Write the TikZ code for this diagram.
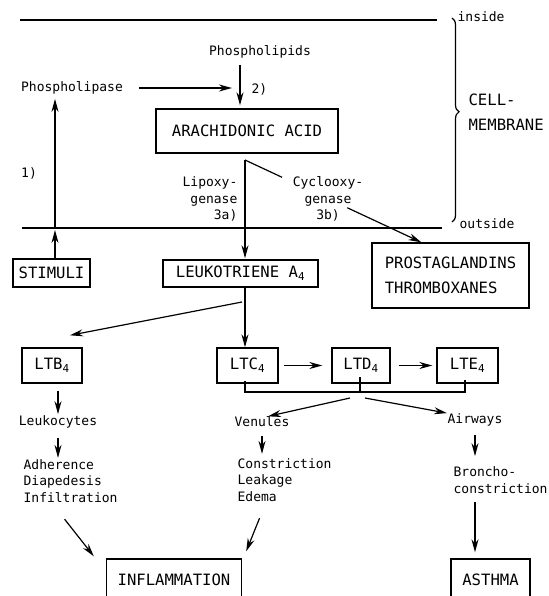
\documentclass[tikz,border=0pt]{standalone}
\usepackage{fontspec}
\newfontfamily\diagmono{DejaVu Sans Mono}
\newcommand{\lblfont}{\diagmono\fontsize{13}{16.5}\selectfont}
\newcommand{\boxtxtfont}{\diagmono\fontsize{15.6}{25}\selectfont}
\usetikzlibrary{arrows.meta,calc,decorations.pathreplacing}

\begin{document}
\begin{tikzpicture}[x=1pt, y=-1pt, line width=1.2pt, >={Stealth[length=13pt,width=7pt]},
                    box node/.style={draw,line width=1.4pt,inner sep=0pt,font=\boxtxtfont},
                    label node/.style={inner sep=0pt,font=\lblfont},
                    membrane/.style={line width=2.4pt}]
  \useasboundingbox (0,0) rectangle (548,596);

  % cell membrane
  \draw[membrane] (20,20) -- (437,20);
  \draw[membrane] (22,228) -- (442,228);
  \draw[line width=1.2pt,decorate,decoration={brace,amplitude=7pt,aspect=0.46}] (452,18) -- (452,222);
  \node[label node,anchor=west] (inside) at (457,17) {inside};
  \node[label node,anchor=west] (outside) at (459,224) {outside};
  \node[label node,anchor=west,align=left,font=\boxtxtfont] (cell) at (468,112) {CELL-\\MEMBRANE};

  % inside the cell
  \node[label node] (lipids) at (260,52) {Phospholipids};
  \node[label node] (lipase) at (72,88) {Phospholipase};
  \coordinate (meet) at (240,88);
  \node[label node,anchor=west] (two) at (251,89) {2)};
  \node[label node] (one) at (29,173) {1)};
  \node[box node,minimum width=182pt,minimum height=44pt] (aa) at (247,131) {ARACHIDONIC ACID};
  \coordinate (split) at (245,160);
  \node[label node,anchor=east,align=right] (lipoxy) at (238,199) {Lipoxy-\\genase\\3a)};
  \node[label node,align=center] (cyclo) at (328,199) {Cyclooxy-\\genase\\3b)};

  % outside
  \node[box node,minimum width=77pt,minimum height=28pt] (stim) at (51.5,273) {STIMULI};
  \node[box node,minimum width=155pt,minimum height=27pt] (lta) at (240.5,273.5) {LEUKOTRIENE A\textsubscript{4}};
  \node[box node,minimum width=157pt,minimum height=65pt,align=left] (pg) at (450.5,275.5) {PROSTAGLANDINS\\THROMBOXANES};
  \coordinate (pgt) at ([xshift=50pt]pg.north west);
  \coordinate (sx) at (55,228);
  \coordinate (lsplit) at (245,302);

  \node[box node,minimum width=60pt,minimum height=35pt] (ltb) at (52,365.5) {LTB\textsubscript{4}};
  \node[box node,minimum width=61pt,minimum height=35pt] (ltc) at (247.5,365.5) {LTC\textsubscript{4}};
  \node[box node,minimum width=58pt,minimum height=35pt] (ltd) at (361,365.5) {LTD\textsubscript{4}};
  \node[box node,minimum width=61pt,minimum height=35pt] (lte) at (467.5,365.5) {LTE\textsubscript{4}};
  \coordinate (barL) at (245,392);
  \coordinate (barM) at (360,392);
  \coordinate (barR) at (465,392);

  \node[label node] (leuko) at (58,422) {Leukocytes};
  \node[label node,anchor=west,align=left] (adher) at (23,481) {Adherence\\Diapedesis\\Infiltration};
  \node[label node] (ven) at (262,422) {Venules};
  \node[label node,anchor=west,align=left] (constr) at (237,480) {Constriction\\Leakage\\Edema};
  \node[label node] (air) at (475,420) {Airways};
  \node[label node,anchor=west,align=left] (broncho) at (453,480) {Broncho-\\constriction};
  \node[box node,minimum width=135pt,minimum height=41pt] (infl) at (174,579.5) {INFLAMMATION};
  \node[box node,minimum width=79pt,minimum height=41pt] (asthma) at (490.5,579.5) {ASTHMA};

  \path[->]
    (lipase) edge[shorten <=16pt,shorten >=8pt] (lipase.east -| meet)
    (lipids.south -| meet) edge[shorten <=6pt,shorten >=3pt] (aa.north -| meet)
    (stim.north -| sx) edge[shorten >=2pt] (sx)
    (sx) edge[shorten >=4pt] (lipase.south -| sx)
    (split) edge[shorten >=1pt] (lta.north -| split)
    (lta.south -| lsplit) edge (ltc.north -| lsplit)
    (ltc) edge[shorten <=5pt,shorten >=9pt] (ltd)
    (ltd) edge[shorten <=8pt,shorten >=4pt] (lte)
    (ltb.south -| leuko.north) edge[shorten <=7pt,shorten >=1pt] (leuko.north)
    (leuko.south) edge[shorten <=9pt,shorten >=1pt] (leuko.south |- adher.north)
    (ven.south) edge[shorten <=8pt,shorten >=4pt] (ven.south |- constr.north)
    (air.south) edge[shorten <=8pt,shorten >=10pt] (air.south |- broncho.north)
    (broncho.south -| air.south) edge[shorten <=8pt,shorten >=6pt] (asthma.north -| air.south);

  \draw (split) -- ($(split)!0.21!(pgt)$);
  \draw[->] ($(split)!0.58!(pgt)$) -- (pgt);
  \draw[->] ([xshift=-3pt]lsplit) -- ([xshift=18pt,yshift=12pt]ltb.north);

  \draw (barL |- ltc.south) ++(0,-3) -- (barL) -- (barR) -- ++(0,-12);
  \draw (barM) -- ++(0,-15);
  \draw[->] ([xshift=-10pt,yshift=-6pt]barM) -- ([xshift=6pt]ven.north);
  \draw[->] ([xshift=5pt,yshift=-6pt]barM) -- (air.north west);

  \draw[->] ([xshift=-6pt,yshift=-16pt]adher.south) -- ([xshift=-12pt,yshift=2pt]infl.north west);
  \draw[->] ([xshift=-25pt,yshift=-16pt]constr.south) -- ([xshift=4pt,yshift=7pt]infl.north east);
\end{tikzpicture}
\end{document}
